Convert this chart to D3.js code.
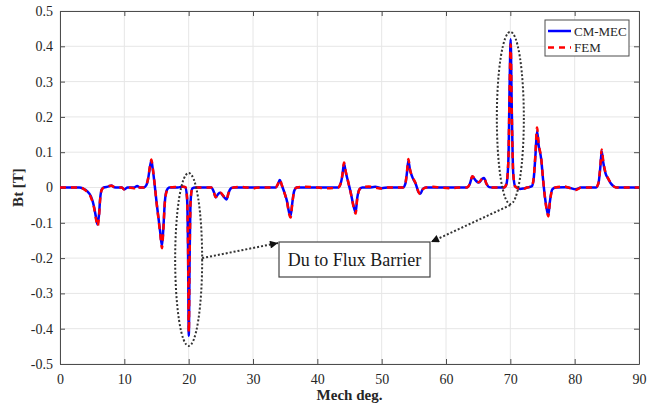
<!DOCTYPE html>
<html><head><meta charset="utf-8">
<script src="https://cdn.jsdelivr.net/npm/d3@7"></script>
<style>body{margin:0;background:#fff}svg{display:block}svg text{font-family:"Liberation Serif","Times New Roman",serif !important}</style>
</head><body><svg id="c" width="667" height="408"></svg>
<script>
const deg = [0,3.0,3.6,4.2,4.8,5.3,5.6,5.85,6.05,6.25,6.5,6.8,7.6,8.0,8.4,9.0,9.6,10.0,10.5,11.5,12.0,12.4,13.0,13.4,13.7,14.0,14.2,14.4,14.7,15.0,15.3,15.6,15.85,16.05,16.3,16.6,17.0,18.3,19.0,19.5,19.75,19.9,20.02,20.15,20.3,20.55,21.0,23.5,23.9,24.2,24.6,24.9,25.5,25.9,26.2,26.6,27.0,28.0,29.0,30.0,31.0,33.5,33.9,34.15,34.5,34.9,35.3,35.6,35.85,36.1,36.4,36.8,38.0,40.0,41.0,43.2,43.6,43.9,44.15,44.4,44.8,45.2,45.6,45.95,46.2,46.6,47.0,48.0,49.0,50.0,51.0,53.3,53.7,53.95,54.15,54.4,54.8,55.3,55.7,56.0,56.4,56.9,58.0,59.0,61.0,62.0,63.2,63.7,64.1,64.6,65.1,65.6,65.9,66.3,66.7,67.2,69.0,69.4,69.7,69.9,70.05,70.2,70.45,70.75,71.5,72.0,72.6,73.3,73.6,73.9,74.15,74.4,74.8,75.1,75.4,75.7,75.9,76.15,76.5,77.0,78.5,79.0,80.2,81.0,83.3,83.7,84.0,84.2,84.45,84.8,85.2,85.6,86.1,86.6,90];
const cmMec = [0,0,-0.003,-0.01,-0.025,-0.055,-0.085,-0.105,-0.08,-0.03,-0.005,0,0.003,0.006,0.001,0,0,-0.005,0,0,0.004,0,0,0.006,0.025,0.06,0.076,0.055,0.01,-0.04,-0.085,-0.13,-0.165,-0.12,-0.04,-0.008,0,0,0.002,0.001,-0.03,-0.17,-0.42,-0.2,-0.04,-0.003,0,0,-0.012,-0.028,-0.018,-0.015,-0.027,-0.034,-0.015,-0.002,0,0,0,0,0,0,0.01,0.021,0.005,-0.015,-0.04,-0.07,-0.08,-0.045,-0.01,0,0,0,0,0,0.01,0.035,0.068,0.045,0.015,-0.015,-0.05,-0.07,-0.03,-0.004,0,0,0.002,-0.002,0,0,0.012,0.045,0.076,0.05,0.028,0.01,-0.012,-0.018,-0.004,0,0,0,0,0,0,0.01,0.031,0.02,0.014,0.024,0.027,0.01,0.001,0,0,0.01,0.08,0.3,0.42,0.25,0.04,0.003,-0.004,-0.003,0,0.003,0.02,0.09,0.16,0.12,0.08,0.02,-0.03,-0.065,-0.078,-0.04,-0.006,0,0.001,0,-0.005,0,0,0.012,0.06,0.103,0.07,0.04,0.025,0.012,0.003,0,0];
const fem = [0,0,-0.003,-0.012,-0.028,-0.058,-0.09,-0.11,-0.085,-0.032,-0.006,0,0.004,0.005,0.002,0,0,-0.006,0,-0.002,0.005,0,0,0.006,0.026,0.062,0.079,0.058,0.012,-0.042,-0.088,-0.135,-0.172,-0.125,-0.042,-0.01,0,0.002,0.003,0.001,-0.03,-0.16,-0.41,-0.19,-0.04,-0.003,0,0,-0.012,-0.027,-0.018,-0.014,-0.026,-0.033,-0.016,-0.002,0,0.002,0,-0.002,0,0,0.011,0.022,0.006,-0.016,-0.042,-0.074,-0.085,-0.047,-0.01,0,0.002,0,-0.002,0,0.01,0.037,0.071,0.047,0.016,-0.016,-0.052,-0.074,-0.032,-0.004,0,0.003,0,-0.003,0,0,0.013,0.048,0.081,0.052,0.03,0.011,-0.012,-0.019,-0.005,0,0.002,0,-0.002,0,0,0.01,0.032,0.021,0.015,0.025,0.028,0.01,0.001,0,0,0.01,0.08,0.29,0.405,0.24,0.04,0.003,-0.004,-0.004,0,0.003,0.022,0.095,0.17,0.125,0.083,0.022,-0.032,-0.068,-0.082,-0.042,-0.007,0,0.003,0,-0.007,0,0,0.013,0.063,0.108,0.073,0.042,0.026,0.013,0.003,0,0];
const xTicks = [0,10,20,30,40,50,60,70,80,90];
const yTicks = [-0.5,-0.4,-0.3,-0.2,-0.1,0,0.1,0.2,0.3,0.4,0.5];
const seriesNames = ["CM-MEC","FEM"];
const annotationText = "Du to Flux Barrier";

const svg = d3.select("#c");
const L=60,R=639,T=11,B=364;
const x = d3.scaleLinear().domain([0,90]).range([L,R]);
const y = d3.scaleLinear().domain([-0.5,0.5]).range([B,T]);
const axisCol="#4d4d4d", txtCol="#262626";
const SERIF='"Liberation Serif","Times New Roman",serif';

// grid
const g = svg.append("g");
g.selectAll("line.vx").data(xTicks).join("line").attr("x1",d=>x(d)).attr("x2",d=>x(d)).attr("y1",T).attr("y2",B).attr("stroke","#e6e6e6").attr("stroke-width",1);
g.selectAll("line.hy").data(yTicks).join("line").attr("y1",d=>y(d)).attr("y2",d=>y(d)).attr("x1",L).attr("x2",R).attr("stroke","#e6e6e6").attr("stroke-width",1);

// axes
const fmt = d=> d===0?"0":d3.format(".1f")(d).replace("−","-");
const ax = svg.append("g").attr("transform",`translate(0,${B})`).call(d3.axisBottom(x).tickValues(xTicks).tickSizeInner(-5).tickSizeOuter(0).tickPadding(10).tickFormat(d3.format("d")));
const ay = svg.append("g").attr("transform",`translate(${L},0)`).call(d3.axisLeft(y).tickValues(yTicks).tickSizeInner(-5).tickSizeOuter(0).tickPadding(7).tickFormat(fmt));
const axT = svg.append("g").attr("transform",`translate(0,${T})`).call(d3.axisTop(x).tickValues(xTicks).tickSizeInner(-5).tickSizeOuter(0).tickFormat(""));
const ayR = svg.append("g").attr("transform",`translate(${R},0)`).call(d3.axisRight(y).tickValues(yTicks).tickSizeInner(-5).tickSizeOuter(0).tickFormat(""));
[ax,ay,axT,ayR].forEach(a=>{a.attr("font-family",null);a.select(".domain").attr("stroke",axisCol);a.selectAll(".tick line").attr("stroke",axisCol);a.selectAll("text").attr("fill",txtCol).attr("font-size",14).style("font-family",SERIF);});

// lines
const line = d3.line().x((d,i)=>x(deg[i])).y(d=>y(d)).curve(d3.curveMonotoneX);
svg.append("path").datum(cmMec).attr("d",line).attr("fill","none").attr("stroke","#0000ff").attr("stroke-width",2.5);
svg.append("path").datum(fem).attr("d",line).attr("fill","none").attr("stroke","#ff0000").attr("stroke-width",2.5).attr("stroke-dasharray","6,5");

// axis labels
svg.append("text").attr("x",(L+R)/2).attr("y",400).attr("text-anchor","middle").attr("font-size",15).attr("font-weight","bold").attr("fill",txtCol).style("font-family",SERIF).text("Mech deg.");
svg.append("text").attr("transform",`translate(23,${(T+B)/2}) rotate(-90)`).attr("text-anchor","middle").attr("font-size",15).attr("font-weight","bold").attr("fill",txtCol).style("font-family",SERIF).text("Bt [T]");

// legend
const lg = svg.append("g");
lg.append("rect").attr("x",545).attr("y",20).attr("width",84).attr("height",36).attr("fill","#fff").attr("stroke",axisCol).attr("stroke-width",1);
const lgi = lg.selectAll("g").data(seriesNames).join("g").attr("transform",(d,i)=>`translate(548,${31+i*16.5})`);
lgi.append("line").attr("x1",0).attr("x2",23).attr("stroke",(d,i)=>i?"#ff0000":"#0000ff").attr("stroke-width",2.5).attr("stroke-dasharray",(d,i)=>i?"6,5":null);
lgi.append("text").attr("x",26).attr("y",4.5).attr("font-size",13).attr("fill",txtCol).style("font-family",SERIF).text(d=>d);

// annotations
const dot = "#333";
const ell = [{cx:20,cy:-0.204,ry:0.245},{cx:70,cy:0.197,ry:0.244}];
svg.selectAll("ellipse").data(ell).join("ellipse").attr("cx",d=>x(d.cx)).attr("cy",d=>y(d.cy)).attr("rx",13.5).attr("ry",d=>y(-d.ry)-y(0)).attr("fill","none").attr("stroke",dot).attr("stroke-width",2).attr("stroke-dasharray","2,2");
const bx=279,by=242,bw=151,bh=35;
svg.append("rect").attr("x",bx).attr("y",by).attr("width",bw).attr("height",bh).attr("fill","#fff").attr("stroke","#444").attr("stroke-width",1.2);
svg.append("text").attr("x",bx+bw/2).attr("y",by+bh/2+6).attr("text-anchor","middle").attr("font-size",18).attr("fill","#1a1a1a").style("font-family",SERIF).text(annotationText);
svg.append("defs").append("marker").attr("id","ah").attr("viewBox","0 0 10 10").attr("refX",10).attr("refY",5).attr("markerWidth",12).attr("markerHeight",8).attr("markerUnits","userSpaceOnUse").attr("orient","auto").append("path").attr("d","M0,0L10,5L0,10Z").attr("fill","#111");
const arrows=[[x(20)+13.5,y(-0.2),bx-1,by+1],[x(70),y(0.197-0.244)+1,bx+bw+1,by]];
svg.selectAll("line.arr").data(arrows).join("line").attr("class","arr").attr("x1",d=>d[0]).attr("y1",d=>d[1]).attr("x2",d=>d[2]).attr("y2",d=>d[3]).attr("stroke",dot).attr("stroke-width",2).attr("stroke-dasharray","2,2").attr("marker-end","url(#ah)");
</script></body></html>
